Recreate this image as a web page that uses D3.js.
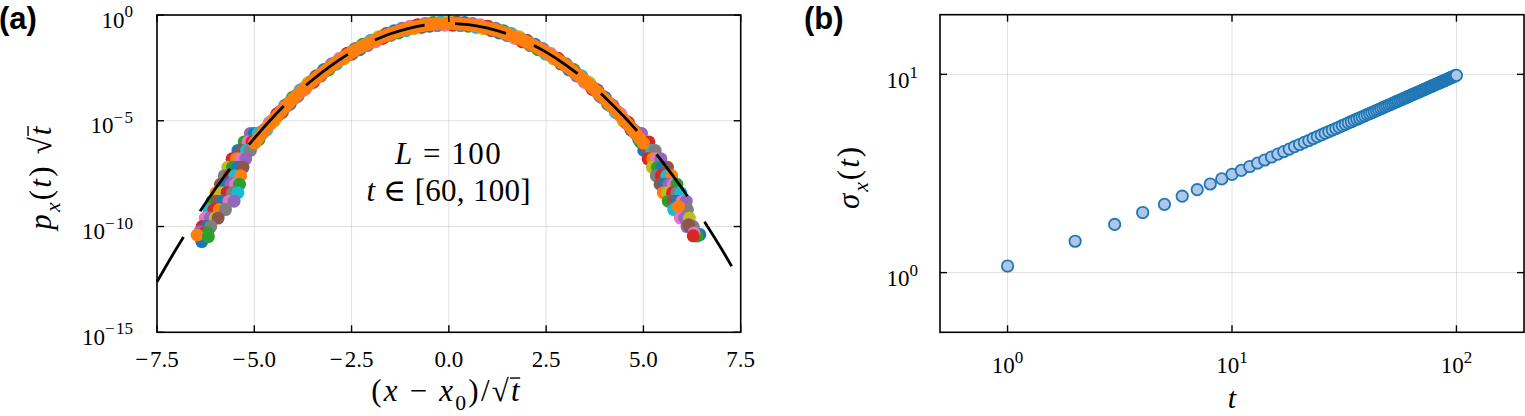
<!DOCTYPE html>
<html><head><meta charset="utf-8">
<script src="https://cdn.jsdelivr.net/npm/d3@7"></script>
<style>body{margin:0;background:#fff} svg{display:block}</style>
</head><body>
<svg id="c" width="1525" height="416"></svg>
<script>
// ---------------- DATA ----------------
// Panel (a): scaled profile of the last (orange) series, u = (x-x0)/sqrt(t)
const bandU = [-5.0,-4.9,-4.8,-4.7,-4.6,-4.5,-4.4,-4.3,-4.2,-4.1,-4.0,-3.9,-3.8,-3.7,-3.6,-3.5,-3.4,-3.3,-3.2,-3.1,-3.0,-2.9,-2.8,-2.7,-2.6,-2.5,-2.4,-2.3,-2.2,-2.1,-2.0,-1.9,-1.8,-1.7,-1.6,-1.5,-1.4,-1.3,-1.2,-1.1,-1.0,-0.9,-0.8,-0.7,-0.6,-0.5,-0.4,-0.3,-0.2,-0.1,0.0,0.1,0.2,0.3,0.4,0.5,0.6,0.7,0.8,0.9,1.0,1.1,1.2,1.3,1.4,1.5,1.6,1.7,1.8,1.9,2.0,2.1,2.2,2.3,2.4,2.5,2.6,2.7,2.8,2.9,3.0,3.1,3.2,3.3,3.4,3.5,3.6,3.7,3.8,3.9,4.0,4.1,4.2,4.3,4.4,4.5,4.6,4.7,4.8,4.9,5.0];
// log10( p_x(t) sqrt(t) )
const bandLogP = [-6.054,-5.822,-5.594,-5.372,-5.156,-4.945,-4.739,-4.538,-4.342,-4.152,-3.966,-3.786,-3.610,-3.440,-3.274,-3.113,-2.958,-2.807,-2.661,-2.519,-2.383,-2.251,-2.124,-2.001,-1.884,-1.770,-1.662,-1.558,-1.459,-1.364,-1.273,-1.188,-1.107,-1.030,-0.957,-0.889,-0.826,-0.767,-0.712,-0.662,-0.617,-0.575,-0.538,-0.505,-0.477,-0.453,-0.434,-0.419,-0.408,-0.401,-0.399,-0.401,-0.408,-0.419,-0.434,-0.453,-0.477,-0.505,-0.538,-0.575,-0.617,-0.662,-0.712,-0.767,-0.826,-0.889,-0.957,-1.030,-1.107,-1.188,-1.273,-1.364,-1.459,-1.558,-1.662,-1.770,-1.884,-2.001,-2.124,-2.251,-2.383,-2.519,-2.661,-2.807,-2.958,-3.113,-3.274,-3.440,-3.610,-3.786,-3.966,-4.152,-4.342,-4.538,-4.739,-4.945,-5.156,-5.372,-5.594,-5.822,-6.054];
// Tail points of the earlier series: [u, log10 p, colour index]
const leftTail = [
 [-5.10,-5.6,4],[-5.00,-5.6,0],[-4.90,-5.6,9],
 [-5.26,-6.0,2],[-5.16,-6.0,6],[-5.06,-6.0,3],[-4.97,-6.0,8],
 [-5.42,-6.4,0],[-5.32,-6.4,5],[-5.20,-6.4,9],[-5.10,-6.4,7],
 [-5.57,-6.8,3],[-5.46,-6.8,1],[-5.34,-6.8,6],[-5.22,-6.8,4],
 [-5.68,-7.2,8],[-5.56,-7.2,2],[-5.43,-7.2,0],[-5.29,-7.2,5],
 [-5.77,-7.6,7],[-5.64,-7.6,3],[-5.50,-7.6,9],[-5.35,-7.6,1],
 [-5.87,-8.0,5],[-5.74,-8.0,0],[-5.60,-8.0,4],[-5.48,-8.0,6],[-5.38,-8.0,2],
 [-5.98,-8.4,1],[-5.85,-8.4,8],[-5.70,-8.4,3],[-5.56,-8.4,7],[-5.42,-8.4,9],
 [-6.08,-8.8,2],[-5.95,-8.8,5],[-5.80,-8.8,0],[-5.65,-8.8,6],[-5.52,-8.8,4],
 [-6.17,-9.2,9],[-6.04,-9.2,3],[-5.90,-9.2,1],[-5.74,-9.2,7],
 [-6.26,-9.6,6],[-6.13,-9.6,4],[-6.00,-9.6,8],[-5.93,-9.6,5],
 [-6.34,-10.0,3],[-6.22,-10.0,0],[-6.12,-10.0,7],
 [-6.40,-10.25,4],[-6.28,-10.3,3],[-6.20,-10.3,2],
 [-6.35,-10.71,0],[-6.47,-10.40,1],[-6.18,-10.48,2]
];
const rightTail = [
 [4.82,-5.6,9],[4.95,-5.6,4],
 [4.92,-6.0,2],[5.03,-6.0,6],[5.14,-6.0,3],
 [5.01,-6.4,0],[5.12,-6.4,5],[5.22,-6.4,9],[5.30,-6.4,7],
 [5.12,-6.8,3],[5.24,-6.8,1],[5.35,-6.8,6],[5.45,-6.8,4],
 [5.23,-7.2,8],[5.36,-7.2,2],[5.49,-7.2,0],[5.62,-7.2,5],
 [5.33,-7.6,7],[5.46,-7.6,3],[5.60,-7.6,9],[5.73,-7.6,1],
 [5.43,-8.0,5],[5.55,-8.0,0],[5.66,-8.0,4],[5.77,-8.0,6],[5.86,-8.0,2],
 [5.51,-8.4,1],[5.63,-8.4,8],[5.75,-8.4,3],[5.86,-8.4,7],[5.96,-8.4,9],
 [5.64,-8.8,2],[5.76,-8.8,5],[5.88,-8.8,0],[6.00,-8.8,6],[6.10,-8.8,4],
 [5.78,-9.2,9],[6.02,-9.2,1],[6.13,-9.2,7],[5.90,-9.06,1],
 [5.95,-9.6,6],[6.06,-9.6,4],[6.18,-9.6,8],
 [6.12,-10.0,4],[6.20,-10.0,0],[6.28,-10.0,7],
 [6.45,-10.38,0],[6.38,-10.45,2],[6.16,-9.92,5],[6.30,-10.3,6],[6.28,-10.44,3]
];
// Gaussian reference (dashed), log10 of exp(-u^2/2)/sqrt(2 pi)
const gaussU = [-7.5,-7.0,-6.5,-6.0,-5.5,-5.0,-4.5,-4.0,-3.5,-3.0,-2.5,-2.0,-1.5,-1.0,-0.5,0.0,0.5,1.0,1.5,2.0,2.5,3.0,3.5,4.0,4.5,5.0,5.5,6.0,6.5,7.0,7.5];
const gaussLogP = [-12.614,-11.039,-9.574,-8.216,-6.968,-5.828,-4.796,-3.873,-3.059,-2.353,-1.756,-1.268,-0.888,-0.616,-0.453,-0.399,-0.453,-0.616,-0.888,-1.268,-1.756,-2.353,-3.059,-3.873,-4.796,-5.828,-6.968,-8.216,-9.574,-11.039,-12.614];
const xTicksA = [-7.5,-5.0,-2.5,0.0,2.5,5.0,7.5];
const xTickLabelsA = ["\u2212\u200A7.5","\u2212\u200A5.0","\u2212\u200A2.5","0.0","2.5","5.0","7.5"];
const yTickExpA = [0,-5,-10,-15];

// Panel (b): sigma_x(t)
const tSteps = [1,2,3,4,5,6,7,8,9,10,11,12,13,14,15,16,17,18,19,20,21,22,23,24,25,26,27,28,29,30,31,32,33,34,35,36,37,38,39,40,41,42,43,44,45,46,47,48,49,50,51,52,53,54,55,56,57,58,59,60,61,62,63,64,65,66,67,68,69,70,71,72,73,74,75,76,77,78,79,80,81,82,83,84,85,86,87,88,89,90,91,92,93,94,95,96,97,98,99,100];
const sigmaX = [1.08,1.44,1.75,2.01,2.21,2.43,2.62,2.80,2.97,3.13,3.28,3.43,3.57,3.70,3.83,3.96,4.08,4.20,4.32,4.43,4.54,4.64,4.75,4.85,4.95,5.05,5.14,5.24,5.33,5.42,5.51,5.60,5.69,5.77,5.86,5.94,6.02,6.10,6.18,6.26,6.34,6.42,6.49,6.57,6.64,6.71,6.79,6.86,6.93,7.00,7.07,7.14,7.21,7.28,7.34,7.41,7.47,7.54,7.60,7.67,7.73,7.80,7.86,7.92,7.98,8.04,8.10,8.16,8.22,8.28,8.34,8.40,8.46,8.52,8.57,8.63,8.69,8.74,8.80,8.86,8.91,8.97,9.02,9.07,9.13,9.18,9.23,9.29,9.34,9.39,9.44,9.50,9.55,9.60,9.65,9.70,9.75,9.80,9.85,9.89];
const xTickExpB = [0,1,2];
const yTickExpB = [0,1];

const palette = ["#1f77b4","#ff7f0e","#2ca02c","#d62728","#9467bd","#8c564b","#e377c2","#7f7f7f","#bcbd22","#17becf"];

// ---------------- DRAW ----------------
const svg = d3.select("#c");
const SERIF = "'Liberation Serif','DejaVu Serif',serif";
const SANS = "'Liberation Sans',Arial,sans-serif";
const TICKFS = 23;

function powLabel(g, x, y, exp, anchor, fs) {
  const t = g.append("text").attr("x", x).attr("y", y)
    .attr("text-anchor", anchor).attr("font-family", SERIF).attr("font-size", fs).attr("fill", "#000");
  t.append("tspan").text("10");
  t.append("tspan").attr("dy", -fs*0.45).attr("font-size", fs*0.74)
    .text(String(exp).replace("-", "\u2212\u200A"));
  return t;
}

// math text: parts = [{s, it, sub, over}]
function mathText(g, x, y, parts, fs, ls, anchor) {
  const t = g.append("text").attr("x", x).attr("y", y).attr("font-family", SERIF)
    .attr("font-size", fs).attr("text-anchor", anchor || "middle").attr("fill", "#000")
    .attr("letter-spacing", ls || 0);
  let shifted = 0;
  const overIdx = [];
  let idx = 0;
  parts.forEach(p => {
    const ts = t.append("tspan").text(p.s);
    if (p.it) ts.attr("font-style", "italic");
    const want = p.sub ? fs*0.28 : 0;
    if (want !== shifted) { ts.attr("dy", want - shifted); shifted = want; }
    if (p.sub) ts.attr("font-size", fs*0.7);
    if (p.over) overIdx.push([idx, idx + p.s.length - 1]);
    idx += p.s.length;
  });
  const node = t.node();
  overIdx.forEach(([a, b]) => {
    const s = node.getStartPositionOfChar(a), e = node.getEndPositionOfChar(b);
    g.append("line").attr("x1", s.x - fs*0.03).attr("x2", e.x - (ls || 0) + fs*0.02)
      .attr("y1", y - fs*0.74).attr("y2", y - fs*0.74)
      .attr("stroke", "#000").attr("stroke-width", fs*0.045);
  });
  return t;
}

function frame(g, L, R, T, B) {
  g.append("rect").attr("x", L).attr("y", T).attr("width", R - L).attr("height", B - T)
    .attr("fill", "none").attr("stroke", "#000").attr("stroke-width", 1.6);
}

// ---- Panel (a)
const A = {L:157, R:740.7, T:15, B:332.3};
const xA = d3.scaleLinear().domain([-7.5, 7.5]).range([A.L, A.R]);
const yA = d3.scaleLog().domain([1e-15, 1]).range([A.B, A.T]);
const gA = svg.append("g");
const TL = 7;

// grid
gA.selectAll(".gx").data(xTicksA).join("line")
  .attr("x1", d => xA(d)).attr("x2", d => xA(d)).attr("y1", A.T).attr("y2", A.B)
  .attr("stroke", "#000").attr("stroke-opacity", 0.12).attr("stroke-width", 1);
gA.selectAll(".gy").data(yTickExpA).join("line")
  .attr("x1", A.L).attr("x2", A.R).attr("y1", d => yA(Math.pow(10, d))).attr("y2", d => yA(Math.pow(10, d)))
  .attr("stroke", "#000").attr("stroke-opacity", 0.12).attr("stroke-width", 1);

const band = bandU.map((u, i) => ({u, lp: bandLogP[i], i}));
const R0 = 6.5;
// underlying earlier series along the band (visible as coloured rim)
const rimCols = [0,2,4,9,6,8,3,5,7];
gA.append("g").selectAll("circle").data(band).join("circle")
  .attr("cx", d => xA(d.u)).attr("cy", d => yA(Math.pow(10, d.lp)) + (d.i % 2 ? 0.8 : -0.8))
  .attr("r", R0 + 0.9).attr("fill", d => palette[rimCols[d.i % rimCols.length]]);
// tails
const tails = leftTail.concat(rightTail);
gA.append("g").selectAll("circle").data(tails).join("circle")
  .attr("cx", d => xA(d[0])).attr("cy", d => yA(Math.pow(10, d[1])))
  .attr("r", R0).attr("fill", d => palette[d[2]]);
// last series (orange)
gA.append("g").selectAll("circle").data(band).join("circle")
  .attr("cx", d => xA(d.u)).attr("cy", d => yA(Math.pow(10, d.lp)))
  .attr("r", R0).attr("fill", palette[1]);
// gaussian dashed
const gline = d3.line().x(d => xA(d[0])).y(d => yA(Math.pow(10, d[1]))).curve(d3.curveCatmullRom.alpha(0.5));
gA.append("path").datum(gaussU.map((u, i) => [u, gaussLogP[i]]))
  .attr("d", gline).attr("fill", "none").attr("stroke", "#000").attr("stroke-width", 2.8)
  .attr("stroke-dasharray", "52,30.6");

frame(gA, A.L, A.R, A.T, A.B);
// ticks (inward, mirrored)
xTicksA.forEach(v => {
  const x = xA(v);
  gA.append("line").attr("x1", x).attr("x2", x).attr("y1", A.B).attr("y2", A.B - TL).attr("stroke", "#000").attr("stroke-width", 1.4);
  gA.append("line").attr("x1", x).attr("x2", x).attr("y1", A.T).attr("y2", A.T + TL).attr("stroke", "#000").attr("stroke-width", 1.4);
});
yTickExpA.forEach(e => {
  const y = yA(Math.pow(10, e));
  gA.append("line").attr("x1", A.L).attr("x2", A.L + TL).attr("y1", y).attr("y2", y).attr("stroke", "#000").attr("stroke-width", 1.4);
  gA.append("line").attr("x1", A.R).attr("x2", A.R - TL).attr("y1", y).attr("y2", y).attr("stroke", "#000").attr("stroke-width", 1.4);
  powLabel(gA, 133, y + 12.5, e, "end", TICKFS);
});
xTicksA.forEach((v, i) => {
  gA.append("text").attr("x", xA(v)).attr("y", 366.5).attr("text-anchor", "middle")
    .attr("font-family", SERIF).attr("font-size", TICKFS).text(xTickLabelsA[i]);
});
// axis labels
mathText(gA, 446.5, 401, [{s:"("},{s:"x",it:true},{s:" \u2212 "},{s:"x",it:true},{s:"0",sub:true},{s:")/\u221A"},{s:"t",it:true,over:true}], 31, 2.2);
const yl = gA.append("g").attr("transform", "translate(51,177) rotate(-90)");
mathText(yl, 0, 0, [{s:"p",it:true},{s:"x",it:true,sub:true},{s:"("},{s:"t",it:true},{s:") \u221A"},{s:"t",it:true,over:true}], 31, 2.2);
// annotation
mathText(gA, 448.7, 164, [{s:"L",it:true},{s:" = 100"}], 31, 1.5);
mathText(gA, 448.7, 201, [{s:"t",it:true},{s:" \u2208 [60, 100]"}], 31, 0.3);
// panel letter
svg.append("text").attr("x", -1).attr("y", 28.5).attr("font-family", SANS).attr("font-weight", "bold")
  .attr("font-size", 31).text("(a)");

// ---- Panel (b)
const B = {L:940, R:1524, T:14.7, B:332.3};
const xB = d3.scaleLog().domain([0.5, 200]).range([B.L, B.R]);
const yB = d3.scaleLog().domain([0.5, 20]).range([B.B, B.T]);
const gB = svg.append("g");
gB.selectAll(".gx").data(xTickExpB).join("line")
  .attr("x1", d => xB(Math.pow(10, d))).attr("x2", d => xB(Math.pow(10, d))).attr("y1", B.T).attr("y2", B.B)
  .attr("stroke", "#000").attr("stroke-opacity", 0.12).attr("stroke-width", 1);
gB.selectAll(".gy").data(yTickExpB).join("line")
  .attr("x1", B.L).attr("x2", B.R).attr("y1", d => yB(Math.pow(10, d))).attr("y2", d => yB(Math.pow(10, d)))
  .attr("stroke", "#000").attr("stroke-opacity", 0.12).attr("stroke-width", 1);
gB.append("g").selectAll("circle").data(tSteps.map((t, i) => [t, sigmaX[i]])).join("circle")
  .attr("cx", d => xB(d[0])).attr("cy", d => yB(d[1])).attr("r", 5.7)
  .attr("fill", "#aec7e8").attr("stroke", "#1f77b4").attr("stroke-width", 1.8);
frame(gB, B.L, B.R, B.T, B.B);
xTickExpB.forEach(e => {
  const x = xB(Math.pow(10, e));
  gB.append("line").attr("x1", x).attr("x2", x).attr("y1", B.B).attr("y2", B.B - TL).attr("stroke", "#000").attr("stroke-width", 1.4);
  gB.append("line").attr("x1", x).attr("x2", x).attr("y1", B.T).attr("y2", B.T + TL).attr("stroke", "#000").attr("stroke-width", 1.4);
  powLabel(gB, x, 373, e, "middle", TICKFS);
});
yTickExpB.forEach(e => {
  const y = yB(Math.pow(10, e));
  gB.append("line").attr("x1", B.L).attr("x2", B.L + TL).attr("y1", y).attr("y2", y).attr("stroke", "#000").attr("stroke-width", 1.4);
  gB.append("line").attr("x1", B.R).attr("x2", B.R - TL).attr("y1", y).attr("y2", y).attr("stroke", "#000").attr("stroke-width", 1.4);
  powLabel(gB, 918, y + 13.5, e, "end", TICKFS);
});
mathText(gB, 1232, 408, [{s:"t",it:true}], 30);
const yl2 = gB.append("g").attr("transform", "translate(859,177) rotate(-90)");
mathText(yl2, 0, 0, [{s:"\u03C3",it:true},{s:"x",it:true,sub:true},{s:"("},{s:"t",it:true},{s:")"}], 31, 2);
svg.append("text").attr("x", 804).attr("y", 28.5).attr("font-family", SANS).attr("font-weight", "bold")
  .attr("font-size", 31).text("(b)");
</script>
</body></html>
